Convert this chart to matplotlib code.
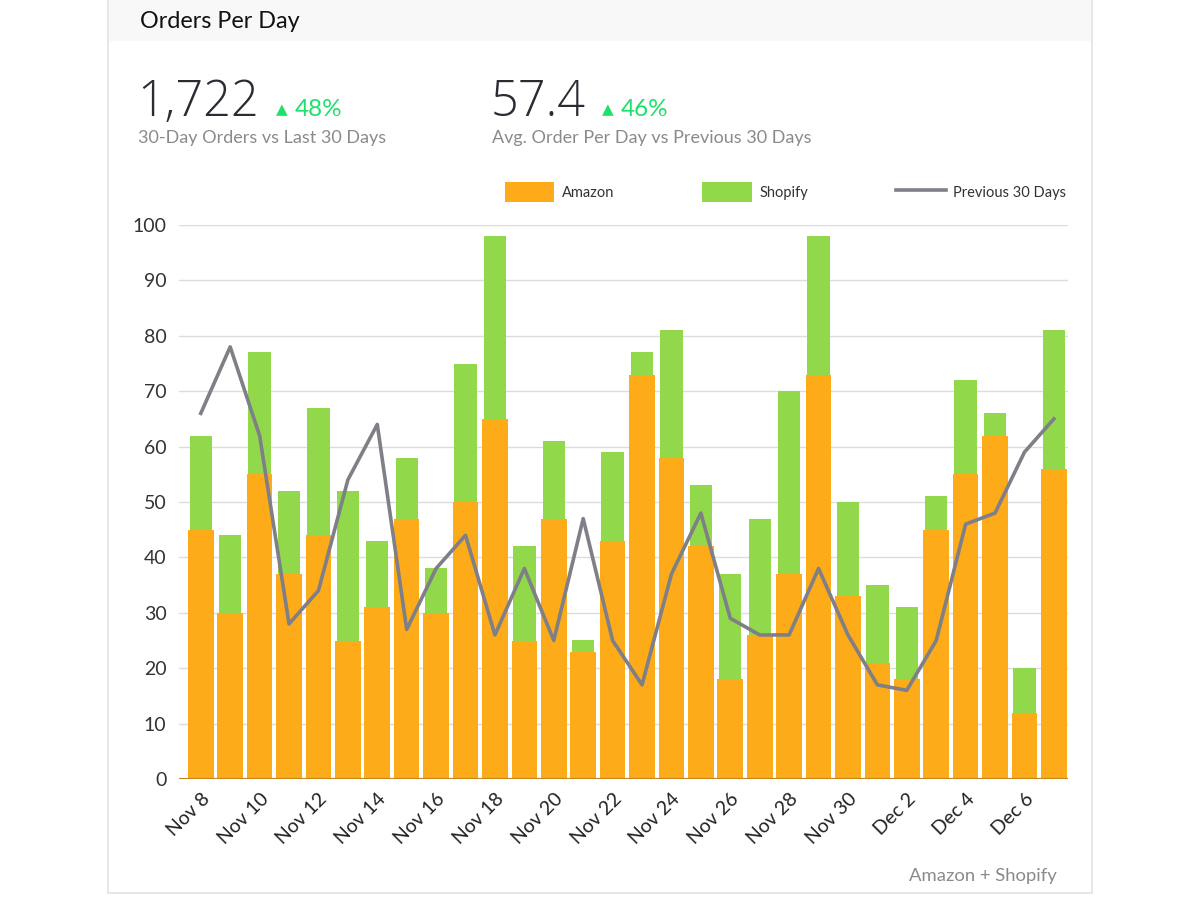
import matplotlib.pyplot as plt
from matplotlib.patches import Rectangle, Patch
from matplotlib.lines import Line2D
import numpy as np

# daily values (Nov 8 - Dec 7)
days = ['Nov 8', 'Nov 9', 'Nov 10', 'Nov 11', 'Nov 12', 'Nov 13', 'Nov 14', 'Nov 15',
        'Nov 16', 'Nov 17', 'Nov 18', 'Nov 19', 'Nov 20', 'Nov 21', 'Nov 22', 'Nov 23',
        'Nov 24', 'Nov 25', 'Nov 26', 'Nov 27', 'Nov 28', 'Nov 29', 'Nov 30', 'Dec 1',
        'Dec 2', 'Dec 3', 'Dec 4', 'Dec 5', 'Dec 6', 'Dec 7']
amazon = [45, 30, 55, 37, 44, 25, 31, 47, 30, 50, 65, 25, 47, 23, 43, 73, 58, 42, 18, 26,
          37, 73, 33, 21, 18, 45, 55, 62, 12, 56]
totals = [62, 44, 77, 52, 67, 52, 43, 58, 38, 75, 98, 42, 61, 25, 59, 77, 81, 53, 37, 47,
          70, 98, 50, 35, 31, 51, 72, 66, 20, 81]
shopify = [t - a for t, a in zip(totals, amazon)]
previous = [66, 78, 62, 28, 34, 54, 64, 27, 38, 44, 26, 38, 25, 47, 25, 17, 37, 48, 29, 26,
            26, 38, 26, 17, 16, 25, 46, 48, 59, 65]

ORANGE = '#fdab19'
GREEN = '#91d94b'
GREY_LINE = '#7f7f88'
TXT = '#2b2b33'
SUB = '#8a8a8a'
UP = '#1ee06a'

plt.rcParams['font.family'] = ['Lato', 'DejaVu Sans']

fig = plt.figure(figsize=(12, 9), dpi=100)

# card + header band
fig.patches.append(Rectangle((108/1200, 1-893/900), (1092-108)/1200, 893/900,
                             transform=fig.transFigure, facecolor='white',
                             edgecolor='#e3e3e3', lw=1.2, zorder=-2))
fig.patches.append(Rectangle((109/1200, 1-41/900), (1091-109)/1200, 41/900,
                             transform=fig.transFigure, facecolor='#f8f8f8',
                             edgecolor='none', zorder=-1))

fig.text(140/1200, 1-22/900, 'Orders Per Day', fontsize=16.8, color='#111111', va='center')

# KPIs
fig.text(137/1200, 1-103/900, '1,722', fontsize=35, color=TXT, va='center',
         family=['Open Sans', 'Lato'], fontweight='light')
fig.text(276/1200, 1-110/900, '▲', fontsize=11, color=UP, va='center',
         family=['DejaVu Sans'])
fig.text(295/1200, 1-110/900, '48%', fontsize=17.5, color=UP, va='center')
fig.text(138/1200, 1-138/900, '30-Day Orders vs Last 30 Days', fontsize=13, color=SUB, va='center')

fig.text(491/1200, 1-103/900, '57.4', fontsize=35, color=TXT, va='center',
         family=['Open Sans', 'Lato'], fontweight='light')
fig.text(602/1200, 1-110/900, '▲', fontsize=11, color=UP, va='center',
         family=['DejaVu Sans'])
fig.text(621/1200, 1-110/900, '46%', fontsize=17.5, color=UP, va='center')
fig.text(492/1200, 1-138/900, 'Avg. Order Per Day vs Previous 30 Days', fontsize=13, color=SUB,
         va='center')

ax = fig.add_axes([179/1200, 1-779/900, (1068-179)/1200, (779-225)/900])
ax.set_facecolor('none')
x = np.arange(len(days))
ax.bar(x, amazon, width=0.87, color=ORANGE, zorder=2)
ax.bar(x, shopify, width=0.76, bottom=amazon, color=GREEN, zorder=2)
ax.plot(x, previous, color=GREY_LINE, lw=2.6, zorder=3)
ax.axhline(0, color='#c8861c', lw=1.6, zorder=4)

ax.set_xlim(-0.74, len(days) - 0.52)
ax.set_ylim(0, 100)
ax.set_yticks(range(0, 101, 10))
ax.yaxis.grid(True, color='#dcdcdc', lw=1)
ax.set_axisbelow(True)
for s in ax.spines.values():
    s.set_visible(False)
ax.tick_params(axis='y', length=0, labelsize=14, labelcolor='#333333', pad=9)
ax.set_xticks(x[::2])
ax.set_xticklabels(days[::2], rotation=45, ha='right', rotation_mode='anchor',
                   fontsize=14, color='#222222')
ax.tick_params(axis='x', length=0, pad=8)

handles = [Patch(facecolor=ORANGE, edgecolor='none', label='Amazon'),
           Patch(facecolor=GREEN, edgecolor='none', label='Shopify'),
           Line2D([], [], color=GREY_LINE, lw=2.6, label='Previous 30 Days')]
fig.legend(handles=handles, loc='lower left', ncol=3, mode='expand',
           bbox_to_anchor=(499/1200, 1-208/900, (1072-499)/1200, 30/900),
           frameon=False, fontsize=10.5, handlelength=3.4, handleheight=1.7,
           handletextpad=0.5, borderaxespad=0, labelcolor='#333333')

fig.text(1057/1200, 1-876/900, 'Amazon + Shopify', fontsize=13.3, color=SUB, ha='right',
         va='center')

fig.savefig('out.png', dpi=100)
